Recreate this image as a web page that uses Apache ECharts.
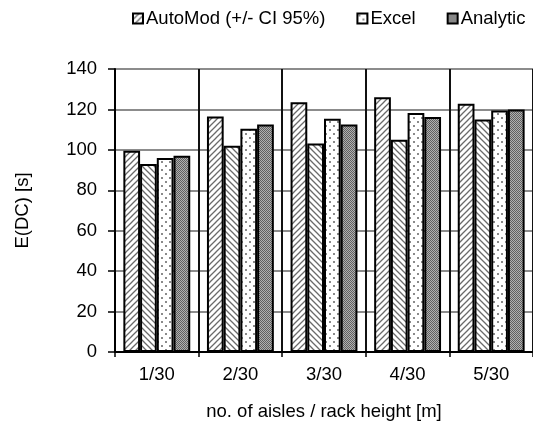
<!DOCTYPE html>
<html>
<head>
<meta charset="utf-8">
<script src="https://cdn.jsdelivr.net/npm/echarts@6/dist/echarts.min.js"></script>
<style>
html,body{margin:0;padding:0;background:#fff;}
#chart{width:533px;height:428px;}
</style>
</head>
<body>
<div id="chart"></div>
<script>
// ---- data ----
var categories = ['1/30', '2/30', '3/30', '4/30', '5/30'];
var automodUpper = [99.6, 116.5, 123.6, 126.0, 122.8];
var automodLower = [93.0, 102.0, 103.2, 105.0, 115.0];
var excel = [96.0, 110.4, 115.4, 118.2, 119.5];
var analytic = [97.1, 112.6, 112.6, 116.2, 120.0];
var seriesNames = ['AutoMod (+/- CI 95%)', 'AutoMod lower', 'Excel', 'Analytic'];
var legendNames = ['AutoMod (+/- CI 95%)', 'Excel', 'Analytic'];

// ---- fill patterns ----
function makeCanvas(w, h) {
  var c = document.createElement('canvas');
  c.width = w; c.height = h;
  return c;
}
function hatch(dir) {
  var s = 6, c = makeCanvas(s, s), g = c.getContext('2d');
  g.fillStyle = '#fff'; g.fillRect(0, 0, s, s);
  g.strokeStyle = '#6a6a6a'; g.lineWidth = 1.3;
  g.beginPath();
  if (dir > 0) {
    g.moveTo(-1, s + 1); g.lineTo(s + 1, -1);
    g.moveTo(-1, 1); g.lineTo(1, -1);
    g.moveTo(s - 1, s + 1); g.lineTo(s + 1, s - 1);
  } else {
    g.moveTo(-1, -1); g.lineTo(s + 1, s + 1);
    g.moveTo(s - 1, -1); g.lineTo(s + 1, 1);
    g.moveTo(-1, s - 1); g.lineTo(1, s + 1);
  }
  g.stroke();
  return c;
}
function dots() {
  var c = makeCanvas(8, 8), g = c.getContext('2d');
  g.fillStyle = '#fff'; g.fillRect(0, 0, 8, 8);
  g.fillStyle = '#8a8a8a';
  g.fillRect(1, 1, 2, 2);
  g.fillRect(5, 5, 2, 2);
  return c;
}
function checker() {
  var c = makeCanvas(2, 2), g = c.getContext('2d');
  g.fillStyle = '#b0b0b0'; g.fillRect(0, 0, 2, 2);
  g.fillStyle = '#606060';
  g.fillRect(0, 0, 1, 1);
  g.fillRect(1, 1, 1, 1);
  return c;
}
var fills = [
  { image: hatch(1), repeat: 'repeat' },
  { image: hatch(-1), repeat: 'repeat' },
  { image: dots(), repeat: 'repeat' },
  { image: checker(), repeat: 'repeat' }
];
var values = [automodUpper, automodLower, excel, analytic];

var font = 'Liberation Sans, Arial, sans-serif';
var chart = echarts.init(document.getElementById('chart'), null, { renderer: 'canvas' });
chart.setOption({
  animation: false,
  backgroundColor: '#fff',
  textStyle: { fontFamily: font },
  legend: {
    data: legendNames,
    left: 127,
    top: 4,
    itemWidth: 10,
    itemHeight: 10,
    itemGap: 31,
    icon: 'rect',
    itemStyle: { borderColor: '#000', borderWidth: 2 },
    textStyle: { fontSize: 18.5, color: '#000', fontFamily: font, padding: [0, 0, 0, -2] }
  },
  grid: { left: 115, right: 0, top: 69, bottom: 76 },
  xAxis: {
    type: 'category',
    data: categories,
    name: 'no. of aisles / rack height [m]',
    nameLocation: 'middle',
    nameGap: 50,
    nameTextStyle: { fontSize: 18.5, color: '#000', fontFamily: font },
    axisLine: { lineStyle: { color: '#000', width: 2 } },
    axisTick: { show: true, length: 5, lineStyle: { color: '#000', width: 1.5 } },
    axisLabel: { fontSize: 18.5, color: '#000', margin: 13, fontFamily: font },
    splitLine: { show: true, lineStyle: { color: '#111', width: 2 } }
  },
  yAxis: {
    type: 'value',
    min: 0, max: 140, interval: 20,
    name: 'E(DC) [s]',
    nameLocation: 'middle',
    nameGap: 83,
    nameTextStyle: { fontSize: 18.5, color: '#000', fontFamily: font },
    axisLine: { show: true, lineStyle: { color: '#000', width: 2 } },
    axisTick: { show: true, length: 7, lineStyle: { color: '#000', width: 1.5 } },
    axisLabel: { fontSize: 18.5, color: '#000', margin: 18, fontFamily: font },
    splitLine: { show: true, lineStyle: { color: '#8c8c8c', width: 2 } }
  },
  series: seriesNames.map(function (n, i) {
    return {
      name: n,
      type: 'bar',
      data: values[i],
      barGap: '0%',
      barCategoryGap: '20%',
      itemStyle: { color: fills[i], borderColor: '#000', borderWidth: 2 }
    };
  })
});
</script>
</body>
</html>
